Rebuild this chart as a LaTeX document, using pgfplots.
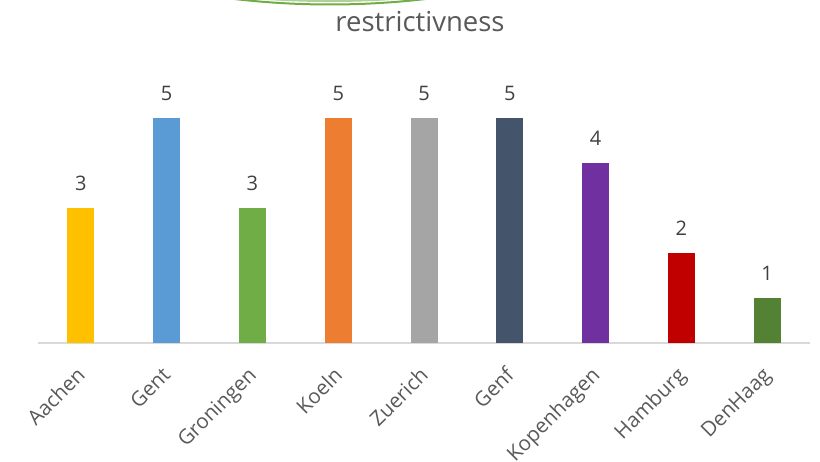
\documentclass[border=0pt]{standalone}
\usepackage{fontspec}
\setmainfont{Open Sans}
\usepackage{pgfplots}
\pgfplotsset{compat=1.18}
\definecolor{cA}{HTML}{FFC000}
\definecolor{cB}{HTML}{5B9BD5}
\definecolor{cC}{HTML}{70AD47}
\definecolor{cD}{HTML}{ED7D31}
\definecolor{cE}{HTML}{A5A5A5}
\definecolor{cF}{HTML}{44546A}
\definecolor{cG}{HTML}{7030A0}
\definecolor{cH}{HTML}{C00000}
\definecolor{cI}{HTML}{548235}
\definecolor{txt}{HTML}{595959}
\definecolor{lbl}{HTML}{404040}
\definecolor{axgray}{HTML}{D9D9D9}
\begin{document}
\begin{tikzpicture}[x=1pt,y=1pt]
\useasboundingbox (0,0) rectangle (820,462);
\draw[cC!55, line width=3pt] (232,466.5) .. controls (296.7,459.8) and (363.3,459.8) .. (428,466.5);
\draw[cC, line width=2pt] (230,463.5) .. controls (296.7,455.5) and (363.3,455.5) .. (430,463.5);
\node[anchor=base, font=\fontsize{27.5}{30}\selectfont, text=txt, inner sep=0pt] at (420,430) {restrictivness};
\begin{axis}[
  at={(38pt,119pt)}, anchor=south west,
  scale only axis, width=772pt, height=270pt,
  xmin=-0.5, xmax=8.5, ymin=0, ymax=6,
  axis y line=none,
  axis x line*=bottom,
  x axis line style={draw=axgray, line width=1.5pt, -},
  xtick={0,1,2,3,4,5,6,7,8},
  xticklabels={Aachen,Gent,Groningen,Koeln,Zuerich,Genf,Kopenhagen,Hamburg,DenHaag},
  major tick length=0pt,
  ytick=\empty,
  /pgf/number format/assume math mode=true,
  xticklabel style={rotate=45, anchor=north east, font=\fontsize{20.5}{22}\selectfont, text=txt, inner sep=0pt, yshift=-12pt, xshift=-20pt},
  ybar, bar width=27pt, bar shift=0pt,
  nodes near coords,
  every node near coord/.append style={font=\fontsize{20}{22}\selectfont, text=lbl, inner sep=0pt, yshift=17pt},
  clip=false,
]
\addplot[fill=cA, draw=none] coordinates {(0,3)};
\addplot[fill=cB, draw=none] coordinates {(1,5)};
\addplot[fill=cC, draw=none] coordinates {(2,3)};
\addplot[fill=cD, draw=none] coordinates {(3,5)};
\addplot[fill=cE, draw=none] coordinates {(4,5)};
\addplot[fill=cF, draw=none] coordinates {(5,5)};
\addplot[fill=cG, draw=none] coordinates {(6,4)};
\addplot[fill=cH, draw=none] coordinates {(7,2)};
\addplot[fill=cI, draw=none] coordinates {(8,1)};
\end{axis}
\end{tikzpicture}
\end{document}
